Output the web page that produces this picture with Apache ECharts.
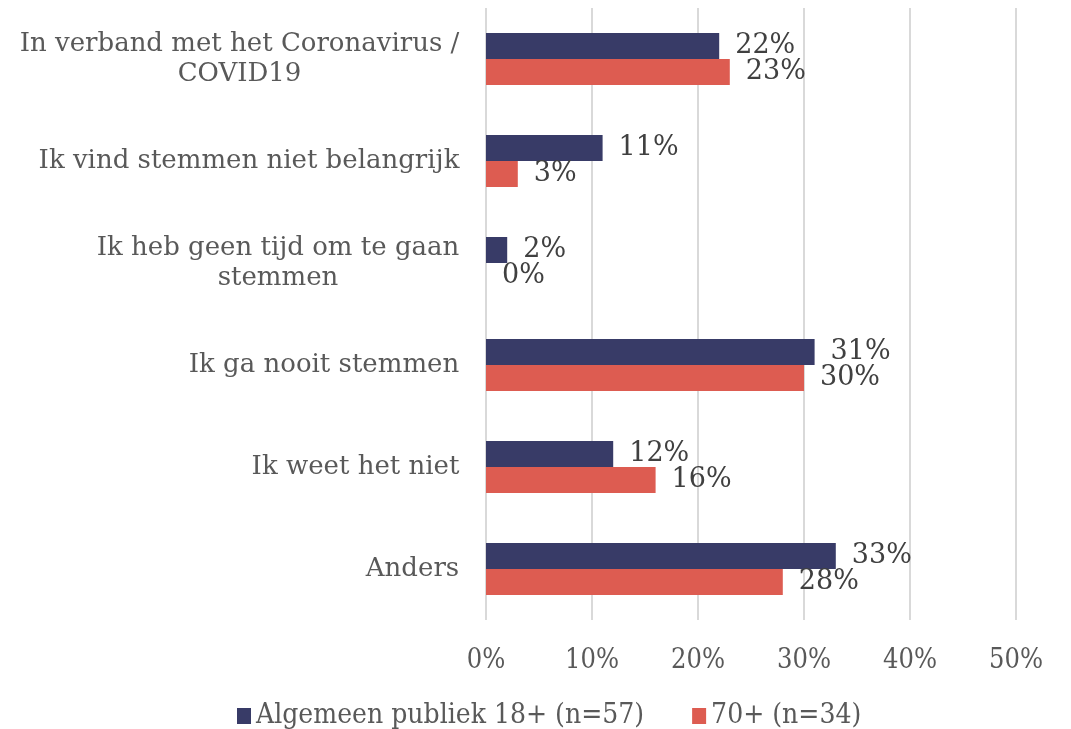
<!DOCTYPE html>
<html>
<head>
<meta charset="utf-8">
<style>
  html, body { margin: 0; padding: 0; background: #fff; }
  #chart { width: 1071px; height: 729px; }
</style>
<script src="https://cdn.jsdelivr.net/npm/echarts@6/dist/echarts.min.js"></script>
</head>
<body>
<div id="chart"></div>
<script>
// categories top to bottom
const categories = [
  'In verband met het Coronavirus /\nCOVID19',
  'Ik vind stemmen niet belangrijk',
  'Ik heb geen tijd om te gaan\nstemmen',
  'Ik ga nooit stemmen',
  'Ik weet het niet',
  'Anders'
];
const seriesNames = ['Algemeen publiek 18+ (n=57)', '70+ (n=34)'];
const algemeen = [22, 11, 2, 31, 12, 33];
const zeventig = [23, 3, 0, 30, 16, 28];
const xTicks = [0, 10, 20, 30, 40, 50];

const serif = '"DejaVu Serif", "Liberation Serif", serif';
const condensed = '"DejaVu Serif Condensed", "Liberation Serif", serif';
const labelSize = 26;

// multi-line category labels are centred within their own block
const measure = document.createElement('canvas').getContext('2d');
measure.font = labelSize + 'px ' + serif;
const rich = {};
const labelText = {};
categories.forEach((c, i) => {
  const lines = c.split('\n');
  const w = Math.max(...lines.map(l => measure.measureText(l).width));
  rich['l' + i] = {
    width: Math.ceil(w) + 1,
    align: 'center',
    fontFamily: serif,
    fontSize: labelSize,
    color: '#595959',
    lineHeight: 30
  };
  labelText[c] = lines.map(l => '{l' + i + '|' + l + '}').join('\n');
});

const chart = echarts.init(document.getElementById('chart'));

const valueLabel = {
  show: true,
  position: 'right',
  distance: 16,
  formatter: p => p.value + '%',
  fontFamily: serif,
  fontSize: 27,
  color: '#404040'
};

chart.setOption({
  backgroundColor: '#fff',
  animation: false,
  grid: { left: 486, right: 55, top: 8, bottom: 109 },
  legend: {
    data: seriesNames,
    bottom: -6,
    left: 232,
    itemWidth: 14,
    itemHeight: 16,
    itemGap: 48,
    icon: 'rect',
    textStyle: { fontFamily: condensed, fontSize: 28, color: '#595959' }
  },
  xAxis: {
    type: 'value',
    min: xTicks[0],
    max: xTicks[xTicks.length - 1],
    interval: 10,
    axisLine: { show: false },
    axisTick: { show: false },
    splitLine: { lineStyle: { color: '#d9d9d9', width: 2 } },
    axisLabel: {
      margin: 27,
      formatter: v => v + '%',
      fontFamily: condensed,
      fontSize: 27,
      color: '#595959'
    }
  },
  yAxis: {
    type: 'category',
    inverse: true,
    data: categories,
    axisLine: { show: false },
    axisTick: { show: false },
    axisLabel: {
      margin: 26,
      formatter: v => labelText[v],
      rich: rich
    }
  },
  series: [
    {
      name: seriesNames[0],
      type: 'bar',
      data: algemeen,
      barGap: '0%',
      barCategoryGap: '49%',
      itemStyle: { color: '#383b67' },
      label: valueLabel
    },
    {
      name: seriesNames[1],
      type: 'bar',
      data: zeventig,
      itemStyle: { color: '#dd5c51' },
      label: valueLabel
    }
  ]
});
</script>
</body>
</html>
